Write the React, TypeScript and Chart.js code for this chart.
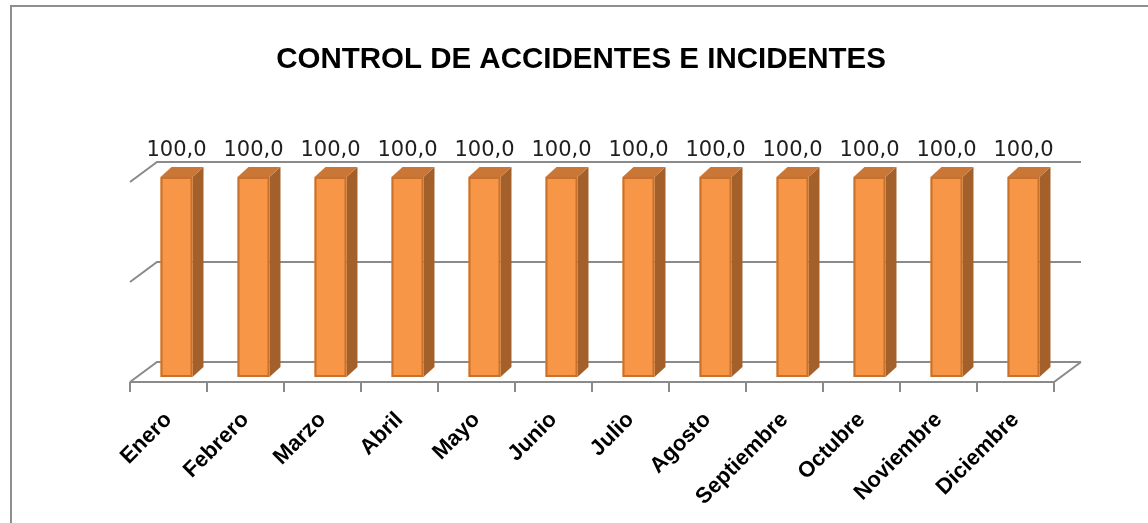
import React, { useEffect, useRef } from "react";
import { Chart, registerables } from "chart.js";

Chart.register(...registerables);

// ---- data ----
const tituloGrafico = "CONTROL DE ACCIDENTES E INCIDENTES";
const meses = [
  "Enero",
  "Febrero",
  "Marzo",
  "Abril",
  "Mayo",
  "Junio",
  "Julio",
  "Agosto",
  "Septiembre",
  "Octubre",
  "Noviembre",
  "Diciembre",
];
const valores = [100, 100, 100, 100, 100, 100, 100, 100, 100, 100, 100, 100];
const ejeYMin = 0;
const ejeYMax = 100;
const ejeYPaso = 50;

// ---- style ----
const WALL = { dx: 27, dy: -20 };
const BAR = { dx: 11, dy: -10 };
const GRID_COLOR = "#8a8a8a";
const FRONT = "#F79646";
const FRONT_EDGE = "#C7712D";
const TOP = "#C97636";
const SIDE = "#A3602B";

const fmt = (v: number) => v.toFixed(1).replace(".", ",");

const pseudo3d = {
  id: "pseudo3d",
  beforeDatasetsDraw(chart: any) {
    const ctx = chart.ctx as CanvasRenderingContext2D;
    const xs = chart.scales.x;
    const ys = chart.scales.y;
    const left = xs.left;
    const right = xs.right;
    ctx.save();
    ctx.strokeStyle = GRID_COLOR;
    ctx.lineWidth = 2;
    ctx.lineCap = "butt";
    ys.ticks.forEach((t: any) => {
      const yf = ys.getPixelForValue(t.value);
      ctx.beginPath();
      ctx.moveTo(left, yf);
      ctx.lineTo(left + WALL.dx, yf + WALL.dy);
      ctx.lineTo(right + WALL.dx, yf + WALL.dy);
      ctx.stroke();
    });
    const y0 = ys.getPixelForValue(ejeYMin);
    ctx.beginPath();
    ctx.moveTo(left, y0);
    ctx.lineTo(right, y0);
    ctx.lineTo(right + WALL.dx, y0 + WALL.dy);
    ctx.stroke();
    const n = chart.data.labels.length;
    const step = (right - left) / n;
    for (let i = 0; i <= n; i++) {
      const x = Math.round(left + i * step);
      ctx.beginPath();
      ctx.moveTo(x, y0);
      ctx.lineTo(x, y0 + 10);
      ctx.stroke();
    }
    ctx.restore();
  },
  beforeDatasetDraw() {
    return false;
  },
  afterDatasetsDraw(chart: any) {
    const ctx = chart.ctx as CanvasRenderingContext2D;
    const meta = chart.getDatasetMeta(0);
    const offX = (WALL.dx - BAR.dx) / 2;
    const offY = (WALL.dy - BAR.dy) / 2;
    ctx.save();
    meta.data.forEach((el: any, i: number) => {
      const p = el.getProps(["x", "y", "base", "width"], true);
      const l = p.x - p.width / 2 + offX;
      const r = l + p.width;
      const t = p.y + offY;
      const b = p.base + offY;
      ctx.fillStyle = SIDE;
      ctx.beginPath();
      ctx.moveTo(r, t);
      ctx.lineTo(r + BAR.dx, t + BAR.dy);
      ctx.lineTo(r + BAR.dx, b + BAR.dy);
      ctx.lineTo(r, b);
      ctx.closePath();
      ctx.fill();
      ctx.fillStyle = TOP;
      ctx.beginPath();
      ctx.moveTo(l, t);
      ctx.lineTo(l + BAR.dx, t + BAR.dy);
      ctx.lineTo(r + BAR.dx, t + BAR.dy);
      ctx.lineTo(r, t);
      ctx.closePath();
      ctx.fill();
      ctx.fillStyle = FRONT;
      ctx.fillRect(l, t, p.width, b - t);
      ctx.strokeStyle = FRONT_EDGE;
      ctx.lineWidth = 2;
      ctx.strokeRect(l + 1, t + 1, p.width - 2, b - t - 2);
      const v = chart.data.datasets[0].data[i];
      ctx.fillStyle = "#1f1f1f";
      ctx.font = "21px 'DejaVu Sans'";
      ctx.textAlign = "center";
      ctx.textBaseline = "alphabetic";
      ctx.fillText(fmt(v), (l + r) / 2, t - 21);
    });
    ctx.restore();
  },
  afterDraw(chart: any) {
    const ctx = chart.ctx as CanvasRenderingContext2D;
    ctx.save();
    ctx.fillStyle = "#000";
    ctx.font = "bold 29.5px 'Liberation Sans'";
    ctx.textAlign = "center";
    ctx.textBaseline = "alphabetic";
    ctx.fillText(tituloGrafico, 581, 68);
    ctx.restore();
  },
};

export default function App() {
  const ref = useRef<HTMLCanvasElement | null>(null);
  useEffect(() => {
    if (!ref.current) return;
    const chart = new Chart(ref.current, {
      type: "bar",
      data: {
        labels: meses,
        datasets: [
          {
            label: "Accidentes",
            data: valores,
            backgroundColor: FRONT,
            categoryPercentage: 1,
            barPercentage: 0.415,
          },
        ],
      },
      options: {
        animation: false,
        responsive: false,
        layout: { padding: { left: 130, right: 94, top: 182, bottom: 0 } },
        plugins: {
          legend: { display: false },
          tooltip: { enabled: false },
          title: { display: false },
        },
        scales: {
          x: {
            type: "category",
            offset: true,
            grid: { display: false, drawTicks: false },
            border: { display: false },
            ticks: {
              autoSkip: false,
              maxRotation: 45,
              minRotation: 45,
              padding: 25,
              color: "#000",
              font: { family: "'Liberation Sans'", size: 22, weight: "bold" },
            },
            afterFit: (s: any) => {
              s.height = 523 - 382;
            },
          },
          y: {
            display: false,
            min: ejeYMin,
            max: ejeYMax,
            ticks: { stepSize: ejeYPaso },
          },
        },
      },
      plugins: [pseudo3d],
    } as any);
    return () => chart.destroy();
  }, []);

  return (
    <div
      style={{
        position: "fixed",
        left: 0,
        top: 0,
        width: 1148,
        height: 523,
        overflow: "hidden",
        background: "#fff",
      }}
    >
      <div
        style={{
          position: "absolute",
          left: 10,
          top: 5,
          width: 1200,
          height: 600,
          border: "2px solid #8e8e8e",
          background: "#fff",
        }}
      />
      <canvas
        ref={ref}
        width={1148}
        height={523}
        style={{ position: "absolute", left: 0, top: 0, width: 1148, height: 523 }}
      />
    </div>
  );
}
